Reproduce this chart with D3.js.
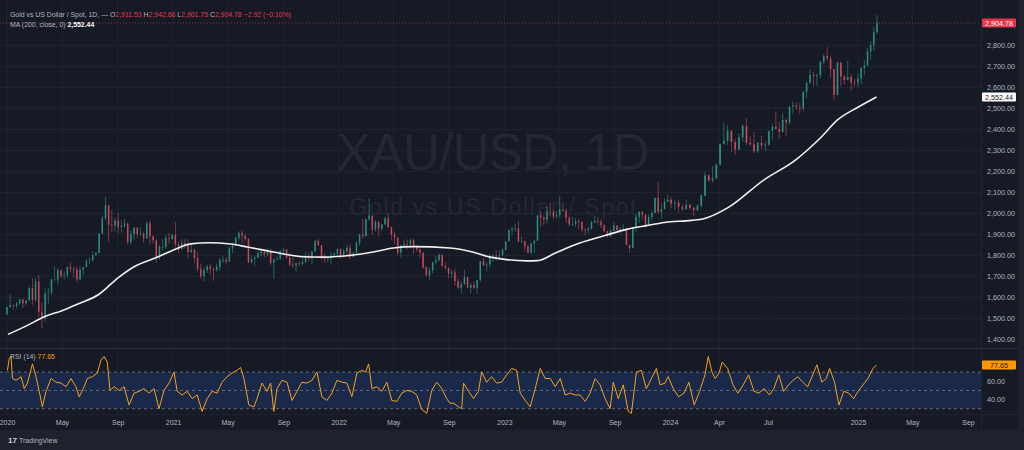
<!DOCTYPE html>
<html>
<head>
<meta charset="utf-8">
<script src="https://cdn.jsdelivr.net/npm/d3@7"></script>
<style>
html, body { margin: 0; padding: 0; background: #1e222d; }
svg { display: block; font-family: "Liberation Sans", Arial, sans-serif; }
</style>
</head>
<body>
<div id="chart"></div>
<script>
// weekly bars [open, high, low, close], one per week, first week centred on 2020-01-01
var firstWeek = "2020-01-01";
var ohlc2020 = [
 [1517,1553,1517,1552],[1552,1611,1548,1562],[1562,1563,1536,1557],[1557,1575,1546,1571],[1571,1591,1563,1589],
 [1589,1592,1547,1570],[1570,1584,1561,1584],[1584,1649,1581,1643],[1643,1689,1563,1585],[1585,1692,1576,1674],
 [1674,1703,1504,1529],[1529,1575,1451,1498],[1498,1645,1483,1617],[1617,1643,1567,1620],[1620,1690,1610,1683],
 [1683,1747,1681,1683],[1683,1738,1659,1727],[1727,1730,1690,1700],[1700,1722,1683,1703],[1703,1745,1692,1743],
 [1743,1765,1717,1735],[1735,1744,1693,1730],[1730,1745,1670,1684],[1684,1745,1682,1730],[1730,1745,1704,1743],
 [1743,1780,1741,1771],[1771,1789,1757,1774],[1774,1818,1770,1799],[1799,1815,1795,1810],[1810,1905,1808,1902],
 [1902,1984,1900,1975],[1975,2075,1966,2035],[2035,2040,1863,1944],[1944,2015,1910,1940],[1940,1977,1911,1964],
 [1964,2000,1902,1934],[1934,1966,1906,1940],[1940,1973,1930,1950],[1950,1955,1849,1862],[1862,1917,1848,1900],
 [1900,1933,1873,1930],[1930,1933,1882,1899],[1899,1933,1890,1902],[1902,1911,1860,1879],[1879,1960,1876,1951],
 [1951,1965,1850,1889],[1889,1893,1855,1871],[1871,1875,1764,1788],[1788,1848,1777,1838],[1838,1875,1820,1839],
 [1839,1896,1828,1881],[1881,1906,1855,1877]
];
var ohlc2021 = [
 [1877,1900,1871,1895],[1895,1959,1836,1850],[1850,1864,1808,1828],[1828,1875,1826,1856],[1856,1875,1831,1848],
 [1848,1875,1785,1814],[1814,1855,1808,1824],[1824,1834,1761,1784],[1784,1816,1717,1734],[1734,1760,1687,1700],
 [1700,1740,1676,1727],[1727,1755,1714,1745],[1745,1755,1705,1733],[1733,1740,1677,1729],[1729,1758,1721,1744],
 [1744,1785,1725,1777],[1777,1797,1763,1777],[1777,1790,1756,1769],[1769,1843,1769,1831],[1831,1846,1808,1844],
 [1844,1890,1843,1881],[1881,1913,1870,1905],[1905,1916,1856,1892],[1892,1903,1866,1877],[1877,1879,1761,1764],
 [1764,1795,1761,1781],[1781,1795,1750,1787],[1787,1818,1786,1808],[1808,1834,1793,1815],[1815,1825,1789,1802],
 [1802,1832,1792,1814],[1814,1831,1753,1763],[1763,1782,1688,1779],[1779,1795,1774,1781],[1781,1823,1778,1818],
 [1818,1834,1802,1827],[1827,1830,1782,1788],[1788,1809,1745,1754],[1754,1788,1737,1750],[1750,1764,1721,1761],
 [1761,1771,1746,1757],[1757,1801,1749,1767],[1767,1814,1760,1796],[1796,1810,1772,1783],[1783,1819,1758,1818],
 [1818,1870,1815,1868],[1868,1877,1844,1846],[1846,1849,1778,1788],[1788,1808,1762,1783],[1783,1793,1766,1783],
 [1783,1815,1753,1798],[1798,1812,1790,1808],[1808,1831,1789,1829]
];
var ohlc2022 = [
 [1829,1831,1782,1797],[1797,1829,1788,1817],[1817,1848,1806,1835],[1835,1853,1780,1791],[1791,1815,1788,1808],
 [1808,1865,1807,1859],[1859,1902,1843,1898],[1898,1974,1878,1889],[1889,1970,1888,1970],[1970,2070,1965,1988],
 [1988,1989,1895,1921],[1921,1966,1911,1958],[1958,1960,1890,1925],[1925,1948,1915,1946],[1946,1980,1942,1975],
 [1975,1998,1930,1932],[1932,1936,1872,1897],[1897,1910,1850,1883],[1883,1885,1799,1811],[1811,1849,1787,1846],
 [1846,1870,1837,1853],[1853,1874,1828,1851],[1851,1875,1836,1871],[1871,1879,1806,1840],[1840,1847,1816,1827],
 [1827,1831,1785,1811],[1811,1813,1732,1742],[1742,1745,1697,1703],[1703,1739,1681,1727],[1727,1767,1712,1766],
 [1766,1795,1754,1775],[1775,1807,1770,1802],[1802,1802,1745,1747],[1747,1765,1727,1738],[1738,1740,1688,1712],
 [1712,1729,1691,1717],[1717,1735,1654,1675],[1675,1688,1639,1644],[1644,1675,1615,1661],[1661,1729,1659,1695],
 [1695,1697,1642,1644],[1644,1668,1618,1657],[1657,1675,1638,1644],[1644,1681,1616,1681],[1681,1772,1672,1771],
 [1771,1786,1748,1751],[1751,1764,1721,1755],[1755,1804,1740,1797],[1797,1806,1767,1797],[1797,1824,1773,1793],
 [1793,1823,1784,1798],[1798,1833,1795,1824]
];
var ohlc2023 = [
 [1824,1865,1822,1865],[1865,1921,1865,1920],[1920,1935,1897,1926],[1926,1949,1911,1928],[1928,1960,1861,1865],
 [1865,1890,1856,1865],[1865,1870,1819,1842],[1842,1848,1809,1811],[1811,1858,1804,1856],[1856,1870,1809,1868],
 [1868,1989,1867,1989],[1989,2009,1934,1978],[1978,1988,1945,1969],[1969,2032,1950,2007],[2007,2048,1984,2004],
 [2004,2015,1969,1983],[1983,2010,1974,1990],[1990,2079,1977,2017],[2017,2048,2006,2011],[2011,2021,1952,1977],
 [1977,1985,1937,1946],[1946,1983,1938,1948],[1948,1976,1932,1961],[1961,1971,1925,1958],[1958,1959,1910,1921],
 [1921,1929,1893,1919],[1919,1935,1902,1925],[1925,1963,1922,1955],[1955,1987,1952,1962],[1962,1982,1942,1959],
 [1959,1970,1929,1942],[1942,1949,1910,1914],[1914,1916,1885,1889],[1889,1922,1885,1915],[1915,1953,1913,1940],
 [1940,1942,1915,1919],[1919,1934,1901,1924],[1924,1947,1913,1925],[1925,1927,1846,1848],[1848,1848,1810,1833],
 [1833,1933,1833,1932],[1932,1997,1908,1981],[1981,2009,1953,2006],[2006,2010,1970,1992],[1992,1992,1932,1940],
 [1940,1993,1937,1981],[1981,2008,1965,2001],[2001,2075,1999,2072],[2072,2146,1995,2004],[2004,2048,1973,2019],
 [2019,2071,2017,2053],[2053,2088,2052,2063]
];
var ohlc2024 = [
 [2063,2078,2024,2045],[2045,2063,2013,2049],[2049,2062,2001,2029],[2029,2041,2010,2018],[2018,2065,2016,2039],
 [2039,2044,2015,2024],[2024,2031,1984,2013],[2013,2041,2010,2035],[2035,2088,2025,2083],[2083,2195,2080,2179],
 [2179,2185,2146,2155],[2155,2222,2146,2165],[2165,2236,2164,2230],[2230,2330,2228,2329],[2329,2431,2326,2344],
 [2344,2418,2324,2392],[2392,2395,2291,2337],[2337,2352,2277,2302],[2302,2378,2298,2360],[2360,2422,2339,2415],
 [2415,2450,2325,2334],[2334,2364,2321,2327],[2327,2388,2286,2294],[2294,2339,2286,2333],[2333,2368,2303,2321],
 [2321,2339,2293,2326],[2326,2392,2319,2391],[2391,2424,2350,2411],[2411,2483,2398,2400],[2400,2432,2353,2386],
 [2386,2477,2383,2443],[2443,2450,2364,2431],[2431,2509,2422,2507],[2507,2531,2470,2512],[2512,2528,2491,2503],
 [2503,2523,2471,2497],[2497,2579,2485,2577],[2577,2625,2546,2621],[2621,2685,2616,2658],[2658,2672,2603,2653],
 [2653,2665,2605,2657],[2657,2722,2641,2721],[2721,2758,2708,2747],[2747,2790,2724,2736],[2736,2750,2643,2685],
 [2685,2688,2536,2563],[2563,2721,2560,2715],[2715,2721,2605,2650],[2650,2657,2613,2633],[2633,2726,2631,2648],
 [2648,2664,2583,2622],[2622,2638,2602,2621]
];
var ohlc2025 = [
 [2621,2665,2597,2640],[2640,2697,2614,2690],[2690,2726,2656,2702],[2702,2786,2700,2770],[2770,2817,2730,2799],
 [2799,2886,2773,2861],[2861,2942.66,2852,2904.78]
];

// MA(200)
var maPoints = [
 ["2020-01-03",1422],["2020-02-15",1465],["2020-03-22",1505],["2020-05-01",1535],["2020-06-05",1567],
 ["2020-07-21",1612],["2020-09-01",1690],["2020-10-06",1743],["2020-11-28",1790],["2021-01-02",1824],
 ["2021-02-09",1853],["2021-03-20",1858],["2021-05-08",1852],["2021-06-14",1838],["2021-08-10",1814],
 ["2021-10-15",1792],["2021-11-28",1790],["2022-02-02",1800],["2022-03-18",1814],["2022-05-01",1833],
 ["2022-06-14",1840],["2022-09-03",1833],["2022-10-23",1814],["2022-12-01",1790],["2023-01-06",1778],
 ["2023-02-20",1772],["2023-03-15",1773],["2023-04-26",1812],["2023-06-16",1857],["2023-08-14",1895],
 ["2023-09-27",1922],["2023-11-10",1940],["2023-12-20",1955],["2024-02-10",1965],["2024-03-04",1973],
 ["2024-04-20",2029],["2024-06-23",2157],["2024-08-26",2252],["2024-10-18",2362],["2024-11-20",2443],
 ["2025-01-02",2505],["2025-02-11",2552.44]
];

// RSI(14)
var rsiPoints = [
 ["2020-01-02",72],["2020-01-06",85],["2020-01-10",87],["2020-01-13",63],["2020-01-21",61],["2020-02-01",65],
 ["2020-02-08",52],["2020-02-15",58],["2020-02-26",79],["2020-03-05",65],["2020-03-12",49],["2020-03-19",32],
 ["2020-03-27",49],["2020-04-07",63],["2020-04-18",59],["2020-04-29",58],["2020-05-10",54],["2020-05-21",63],
 ["2020-06-01",54],["2020-06-08",43],["2020-06-19",54],["2020-06-26",63],["2020-07-07",65],["2020-07-18",69],
 ["2020-07-26",83],["2020-08-02",87],["2020-08-09",81],["2020-08-15",50],["2020-08-24",54],["2020-09-04",50],
 ["2020-09-15",54],["2020-09-26",34],["2020-10-07",47],["2020-10-18",49],["2020-10-29",52],["2020-11-09",47],
 ["2020-11-20",52],["2020-12-01",30],["2020-12-12",50],["2020-12-23",58],
 ["2021-01-03",70],["2021-01-10",49],["2021-01-21",45],["2021-02-01",49],["2021-02-12",41],["2021-02-23",45],
 ["2021-03-06",27],["2021-03-17",41],["2021-03-28",49],["2021-04-08",47],["2021-04-19",59],["2021-04-30",65],
 ["2021-05-11",69],["2021-05-22",72],["2021-05-30",75],["2021-06-06",63],["2021-06-17",34],["2021-06-28",32],
 ["2021-07-05",41],["2021-07-16",58],["2021-07-27",49],["2021-08-04",58],["2021-08-11",27],["2021-08-18",52],
 ["2021-08-29",61],["2021-09-09",59],["2021-09-20",39],["2021-10-01",49],["2021-10-12",59],["2021-10-23",58],
 ["2021-11-03",61],["2021-11-14",70],["2021-11-25",43],["2021-12-06",39],["2021-12-17",47],["2021-12-28",61],
 ["2022-01-08",59],["2022-01-19",58],["2022-01-30",43],["2022-02-10",69],["2022-02-21",72],["2022-03-01",70],
 ["2022-03-08",79],["2022-03-15",52],["2022-03-26",54],["2022-04-06",49],["2022-04-17",59],["2022-04-28",39],
 ["2022-05-09",38],["2022-05-20",47],["2022-05-31",50],["2022-06-11",49],["2022-06-22",45],["2022-07-03",29],
 ["2022-07-14",25],["2022-07-25",50],["2022-08-05",59],["2022-08-16",52],["2022-08-27",41],["2022-09-03",36],
 ["2022-09-11",36],["2022-09-22",32],["2022-09-29",30],["2022-10-03",58],["2022-10-14",49],["2022-10-25",41],
 ["2022-11-05",49],["2022-11-12",70],["2022-11-23",59],["2022-12-04",65],["2022-12-15",58],["2022-12-26",59],
 ["2023-01-06",67],["2023-01-17",74],["2023-01-28",72],["2023-02-05",47],["2023-02-16",39],["2023-02-27",32],
 ["2023-03-10",52],["2023-03-21",74],["2023-04-01",63],["2023-04-12",63],["2023-04-23",54],["2023-05-04",63],
 ["2023-05-15",45],["2023-05-26",47],["2023-06-06",45],["2023-06-17",45],["2023-06-28",38],["2023-07-09",47],
 ["2023-07-20",63],["2023-07-31",56],["2023-08-11",41],["2023-08-22",30],["2023-08-29",59],["2023-09-09",41],
 ["2023-09-20",56],["2023-10-01",27],["2023-10-08",25],["2023-10-19",70],["2023-10-30",72],["2023-11-10",52],
 ["2023-11-21",63],["2023-12-02",74],["2023-12-10",56],["2023-12-21",58],["2023-12-28",65],
 ["2024-01-07",52],["2024-01-17",43],["2024-01-27",47],["2024-02-05",59],["2024-02-15",34],["2024-02-25",49],
 ["2024-03-06",67],["2024-03-12",87],["2024-03-19",70],["2024-03-25",63],["2024-04-01",69],["2024-04-07",81],
 ["2024-04-17",74],["2024-04-27",56],["2024-05-06",47],["2024-05-16",56],["2024-05-26",67],["2024-06-05",49],
 ["2024-06-14",47],["2024-06-24",52],["2024-07-04",45],["2024-07-13",52],["2024-07-23",67],["2024-08-02",49],
 ["2024-08-12",56],["2024-08-21",61],["2024-08-31",65],["2024-09-10",59],["2024-09-20",54],["2024-09-29",65],
 ["2024-10-09",78],["2024-10-19",59],["2024-10-28",63],["2024-11-04",74],["2024-11-14",59],["2024-11-23",34],
 ["2024-12-03",49],["2024-12-13",47],["2024-12-23",41],
 ["2025-01-01",49],["2025-01-12",56],["2025-01-23",63],["2025-02-03",74],["2025-02-11",77.65]
];

var priceTicks = [1400,1500,1600,1700,1800,1900,2000,2100,2200,2300,2400,2500,2600,2700,2800];
var rsiTicks = [40, 60];
var rsiLevels = [30, 50, 70];
var timeTicks = [
 ["2020-01-01","2020"],["2020-05-01","May"],["2020-09-01","Sep"],["2021-01-01","2021"],["2021-05-01","May"],
 ["2021-09-01","Sep"],["2022-01-01","2022"],["2022-05-01","May"],["2022-09-01","Sep"],["2023-01-01","2023"],
 ["2023-05-01","May"],["2023-09-01","Sep"],["2024-01-01","2024"],["2024-04-01","Apr"],["2024-07-01","Jul"],
 ["2025-01-01","2025"],["2025-05-01","May"],["2025-09-01","Sep"]
];
var lastBar = {o: 2911.53, h: 2942.66, l: 2901.75, c: 2904.78, chg: -2.92, pct: -0.10};
var maLast = 2552.44;
var rsiLast = 77.65;

var W = 1024, H = 450;
var plotR = 981;          // right edge of panes, price scale to the right
var pricePane = [0, 348];
var rsiPane = [348, 414];
var axisBottom = 430;

var bg = "#161a25", grid = "#1f2330", txt = "#b2b5be";
var upCol = "#2f9e8b", downCol = "#d9505f";

var parse = d3.timeParse("%Y-%m-%d");

var x = d3.scaleTime()
    .domain(["2020-01-01","2024-01-01","2024-04-01","2024-07-01","2025-01-01","2025-09-01"].map(parse))
    .range([7, 670, 719, 768, 858, 968]);
var y = d3.scaleLinear().domain([1400, 2800]).range([339, 45]);
var yR = d3.scaleLinear().domain([30, 70]).range([408.7, 372.1]);

var bars = ohlc2020.concat(ohlc2021, ohlc2022, ohlc2023, ohlc2024, ohlc2025).map(function(d, i){
    return {date: d3.timeDay.offset(parse(firstWeek), 7*i), o: d[0], h: d[1], l: d[2], c: d[3]};
});

var svg = d3.select("#chart").append("svg").attr("width", W).attr("height", H);

svg.append("rect").attr("width", W).attr("height", H).attr("fill", "#1e222d");
svg.append("rect").attr("width", 1018).attr("height", axisBottom).attr("fill", bg);

var defs = svg.append("defs");
defs.append("clipPath").attr("id", "clipP").append("rect")
    .attr("x", 0).attr("y", pricePane[0]).attr("width", plotR).attr("height", pricePane[1] - pricePane[0]);
defs.append("clipPath").attr("id", "clipR").append("rect")
    .attr("x", 0).attr("y", rsiPane[0]).attr("width", plotR).attr("height", rsiPane[1] - rsiPane[0]);

// grid
var gridG = svg.append("g");
gridG.selectAll(".vg").data(timeTicks).enter().append("line")
    .attr("x1", function(d){ return x(parse(d[0])); })
    .attr("x2", function(d){ return x(parse(d[0])); })
    .attr("y1", 0).attr("y2", rsiPane[1])
    .attr("stroke", grid).attr("stroke-width", 1);
gridG.selectAll(".hg").data(priceTicks).enter().append("line")
    .attr("x1", 0).attr("x2", plotR)
    .attr("y1", function(d){ return Math.round(y(d)) + 0.5; })
    .attr("y2", function(d){ return Math.round(y(d)) + 0.5; })
    .attr("stroke", grid).attr("stroke-width", 1);

// watermark
svg.append("text").attr("x", 493).attr("y", 170).attr("text-anchor", "middle")
    .attr("font-size", 51).attr("fill", "#232733").attr("textLength", 313)
    .text("XAU/USD, 1D");
svg.append("text").attr("x", 493).attr("y", 215).attr("text-anchor", "middle")
    .attr("font-size", 23).attr("fill", "#232733").attr("textLength", 287)
    .text("Gold vs US Dollar / Spot");

// pane separators
svg.append("line").attr("x1", 0).attr("x2", 1018).attr("y1", 348.5).attr("y2", 348.5)
    .attr("stroke", "#2a2e39");
svg.append("line").attr("x1", plotR + 0.5).attr("x2", plotR + 0.5).attr("y1", 0).attr("y2", axisBottom)
    .attr("stroke", "#1f2330");
svg.append("line").attr("x1", 0).attr("x2", 1018).attr("y1", rsiPane[1] + 0.5).attr("y2", rsiPane[1] + 0.5)
    .attr("stroke", "#1f2330");

// candles
var step = function(d){ return x(d3.timeDay.offset(d.date, 7)) - x(d.date); };
var candles = svg.append("g").attr("clip-path", "url(#clipP)");
var cg = candles.selectAll(".c").data(bars).enter().append("g");
cg.append("line")
    .attr("x1", function(d){ return x(d.date); })
    .attr("x2", function(d){ return x(d.date); })
    .attr("y1", function(d){ return y(d.h); })
    .attr("y2", function(d){ return y(d.l); })
    .attr("stroke", function(d){ return d.c >= d.o ? upCol : downCol; })
    .attr("stroke-width", 0.7)
    .attr("opacity", 0.8);
cg.append("rect")
    .attr("x", function(d){ return x(d.date) - step(d) * 0.24; })
    .attr("width", function(d){ return step(d) * 0.48; })
    .attr("y", function(d){ return y(Math.max(d.o, d.c)); })
    .attr("height", function(d){ return Math.max(0.8, Math.abs(y(d.o) - y(d.c))); })
    .attr("fill", function(d){ return d.c >= d.o ? upCol : downCol; })
    .attr("opacity", 0.8);

// last price line
svg.append("line").attr("x1", 0).attr("x2", plotR)
    .attr("y1", y(lastBar.c)).attr("y2", y(lastBar.c))
    .attr("stroke", "#f23645").attr("stroke-dasharray", "1,2").attr("opacity", 0.6);

// MA line
var maLine = d3.line()
    .x(function(d){ return x(parse(d[0])); })
    .y(function(d){ return y(d[1]); })
    .curve(d3.curveMonotoneX);
svg.append("path").datum(maPoints).attr("d", maLine)
    .attr("fill", "none").attr("stroke", "#f0f0f0").attr("stroke-width", 1.6)
    .attr("clip-path", "url(#clipP)");

// RSI pane
var rsiG = svg.append("g").attr("clip-path", "url(#clipR)");
rsiG.append("rect").attr("x", 0).attr("width", plotR)
    .attr("y", yR(70)).attr("height", yR(30) - yR(70))
    .attr("fill", "#1b2a4e").attr("opacity", 0.9);
rsiG.selectAll(".lv").data(rsiLevels).enter().append("line")
    .attr("x1", 0).attr("x2", plotR)
    .attr("y1", function(d){ return yR(d); }).attr("y2", function(d){ return yR(d); })
    .attr("stroke", "#787b86").attr("stroke-dasharray", "3,3").attr("stroke-width", 0.8);
var rsiLine = d3.line()
    .x(function(d){ return x(parse(d[0])); })
    .y(function(d){ return yR(d[1]); });
rsiG.append("path").datum(rsiPoints).attr("d", rsiLine)
    .attr("fill", "none").attr("stroke", "#f7a21b").attr("stroke-width", 1)
    .attr("stroke-linejoin", "round");

// price axis
var pAxis = svg.append("g").attr("transform", "translate(987,0)")
    .call(d3.axisRight(y).tickValues(priceTicks).tickFormat(d3.format(",.2f")).tickSize(0).tickPadding(0));
pAxis.select(".domain").remove();
pAxis.selectAll("text").attr("fill", txt).attr("font-size", 7.2).attr("font-family", "Liberation Sans, Arial, sans-serif");

var rAxis = svg.append("g").attr("transform", "translate(987,0)")
    .call(d3.axisRight(yR).tickValues(rsiTicks).tickFormat(d3.format(".2f")).tickSize(0).tickPadding(0));
rAxis.select(".domain").remove();
rAxis.selectAll("text").attr("fill", txt).attr("font-size", 7.2).attr("font-family", "Liberation Sans, Arial, sans-serif");

// value tags on the scale
var tag = function(val, yy, fill, col, fmt){
    svg.append("rect").attr("x", 982).attr("y", yy - 4.5).attr("width", 34).attr("height", 9)
        .attr("rx", 1).attr("fill", fill);
    svg.append("text").attr("x", 999).attr("y", yy + 2.6).attr("text-anchor", "middle")
        .attr("font-size", 7.2).attr("fill", col).text(fmt(val));
};
tag(lastBar.c, y(lastBar.c), "#e8334a", "#ffffff", d3.format(",.2f"));
tag(maLast, y(maLast), "#ffffff", "#131722", d3.format(",.2f"));
tag(rsiLast, yR(rsiLast), "#ff9800", "#131722", d3.format(".2f"));

// time axis
var tAxis = svg.append("g").attr("transform", "translate(0," + (rsiPane[1] + 4) + ")")
    .call(d3.axisBottom(x).tickValues(timeTicks.map(function(d){ return parse(d[0]); }))
        .tickFormat(function(d, i){ return timeTicks[i][1]; }).tickSize(0).tickPadding(2));
tAxis.select(".domain").remove();
tAxis.selectAll("text").attr("fill", txt).attr("font-size", 7).attr("font-family", "Liberation Sans, Arial, sans-serif");

// legend lines
var f2 = d3.format(",.2f");
var red = "#e0384f";
var head = svg.append("text").attr("x", 10).attr("y", 16.5).attr("font-size", 6.9).attr("fill", txt);
head.append("tspan").text("Gold vs US Dollar / Spot, 1D, \u2014 ");
head.append("tspan").text(" O");
head.append("tspan").attr("fill", red).text(f2(lastBar.o) + "  ");
head.append("tspan").text("H");
head.append("tspan").attr("fill", red).text(f2(lastBar.h) + "  ");
head.append("tspan").text("L");
head.append("tspan").attr("fill", red).text(f2(lastBar.l) + "  ");
head.append("tspan").text("C");
head.append("tspan").attr("fill", red).text(f2(lastBar.c) + "  " + "\u2212" + Math.abs(lastBar.chg).toFixed(2) +
    " (\u2212" + Math.abs(lastBar.pct).toFixed(2) + "%)");

var head2 = svg.append("text").attr("x", 10).attr("y", 26.5).attr("font-size", 6.9).attr("fill", txt);
head2.append("tspan").text("MA (200, close, 0)  ");
head2.append("tspan").attr("fill", "#ffffff").attr("font-weight", "bold").text(f2(maLast));

var rsiHead = svg.append("text").attr("x", 10).attr("y", 359).attr("font-size", 6.9).attr("fill", txt);
rsiHead.append("tspan").text("RSI (14)  ");
rsiHead.append("tspan").attr("fill", "#ff9800").text(rsiLast.toFixed(2));

// footer logo
svg.append("text").attr("x", 8).attr("y", 443).attr("font-size", 8).attr("font-weight", "bold")
    .attr("fill", "#d1d4dc").text("17");
svg.append("text").attr("x", 19).attr("y", 443).attr("font-size", 7).attr("fill", "#b2b5be").text("TradingView");
</script>
</body>
</html>
